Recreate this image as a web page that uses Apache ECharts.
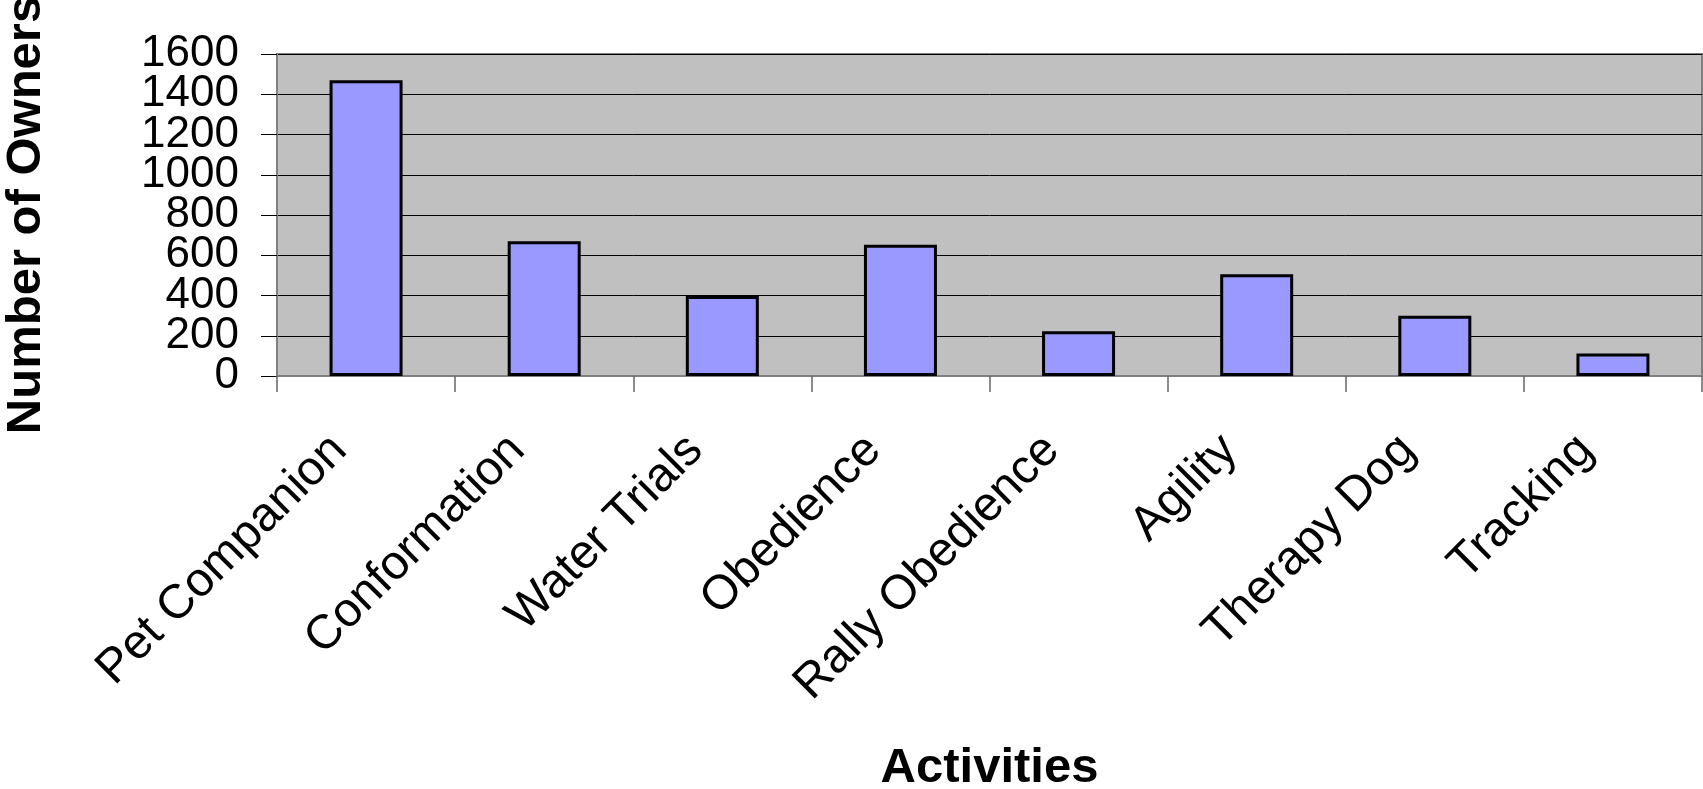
<!DOCTYPE html>
<html>
<head>
<meta charset="utf-8">
<script src="https://cdn.jsdelivr.net/npm/echarts@6/dist/echarts.min.js"></script>
<style>
html,body{margin:0;padding:0;background:#fff;}
#chart{width:1703px;height:789px;}
</style>
</head>
<body>
<div id="chart"></div>
<script>
const categories = ["Pet Companion","Conformation","Water Trials","Obedience","Rally Obedience","Agility","Therapy Dog","Tracking"];
const owners = [1470, 670, 397, 652, 222, 505, 300, 112];
const yTicks = {min: 0, max: 1600, interval: 200};
const xTitle = "Activities";
const yTitle = "Number of Owners";

const FONT = "'Liberation Sans', Arial, sans-serif";
const labelBase = {
  margin: 38, fontFamily: FONT, fontSize: 44, color: '#000',
  hideOverlap: false, showMinLabel: true, showMaxLabel: true
};
const chart = echarts.init(document.getElementById('chart'), null, {renderer: 'canvas'});
chart.setOption({
  animation: false,
  backgroundColor: '#ffffff',
  grid: {
    left: 277, top: 54, right: 1, bottom: 413,
    show: true, backgroundColor: '#C0C0C0', borderColor: '#808080', borderWidth: 2,
    containLabel: false,
    outerBoundsMode: 'none'
  },
  xAxis: {
    type: 'category',
    data: categories,
    name: xTitle,
    nameLocation: 'middle',
    nameGap: 368,
    nameTextStyle: {fontFamily: FONT, fontSize: 49, fontWeight: 'bold', color: '#000'},
    axisLine: {show: true, lineStyle: {color: '#808080', width: 2}},
    axisTick: {show: true, length: 16, alignWithLabel: false, lineStyle: {color: '#666', width: 1.5}},
    axisLabel: {rotate: 45, margin: 40, padding: [0, 38, 0, 0], interval: 0, hideOverlap: false, fontFamily: FONT, fontSize: 48, color: '#000'},
    splitLine: {show: false}
  },
  yAxis: [{
    type: 'value',
    min: yTicks.min, max: yTicks.max, interval: yTicks.interval,
    name: yTitle,
    nameLocation: 'middle',
    nameRotate: 90,
    nameGap: 226,
    nameTextStyle: {fontFamily: FONT, fontSize: 49, fontWeight: 'bold', color: '#000'},
    axisLine: {show: true, lineStyle: {color: '#808080', width: 2}},
    axisTick: {show: true, length: 16, lineStyle: {color: '#000', width: 1}},
    axisLabel: Object.assign({}, labelBase, {
      formatter: function (v) { return (v % (2 * yTicks.interval) === 0) ? String(v) : ''; }
    }),
    splitLine: {show: true, lineStyle: {color: '#000', width: 1}}
  }, {
    type: 'value',
    position: 'left',
    offset: 0,
    min: yTicks.min, max: yTicks.max, interval: yTicks.interval,
    axisLine: {show: false},
    axisTick: {show: false},
    splitLine: {show: false},
    axisLabel: Object.assign({}, labelBase, {
      formatter: function (v) { return (v % (2 * yTicks.interval) !== 0) ? String(v) : ''; }
    })
  }],
  series: [{
    type: 'bar',
    yAxisIndex: 0,
    data: owners,
    barWidth: 73,
    itemStyle: {color: '#9999FF', borderColor: '#000', borderWidth: 3}
  }]
});
</script>
</body>
</html>
